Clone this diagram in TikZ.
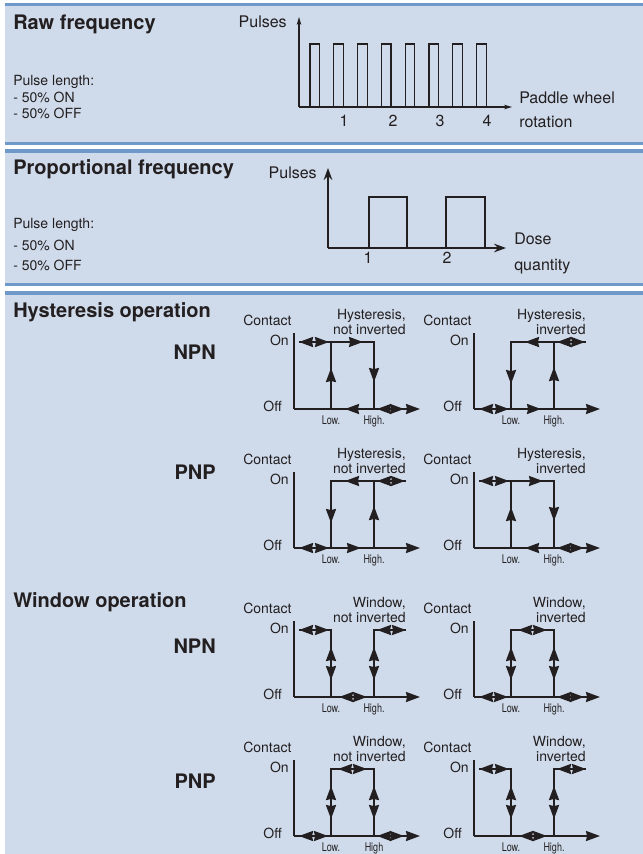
\documentclass[tikz,border=0pt]{standalone}
\usepackage{fontspec}
\setmainfont{TeX Gyre Heros}
\newfontfamily\narrowfont[FakeStretch=0.75]{TeX Gyre Heros}
\usepackage{tikz}
\usetikzlibrary{arrows.meta}
\definecolor{bandblue}{RGB}{207,219,235}
\definecolor{ruleblue}{RGB}{111,153,201}
\definecolor{ink}{RGB}{35,31,32}

\begin{document}
\begin{tikzpicture}[x=0.75pt,y=-0.75pt,
  every node/.style={inner sep=0pt,text=ink},
  title/.style={font=\fontsize{15}{18}\selectfont\bfseries,text height=10.8pt,text depth=0pt},
  note/.style={font=\fontsize{10.5}{12}\selectfont,text height=7.6pt,text depth=0pt},
  axlbl/.style={font=\fontsize{12}{14}\selectfont,text height=8.6pt,text depth=0pt},
  chartlbl/.style={font=\fontsize{10.5}{12}\selectfont,text height=7.6pt,text depth=0pt},
  lvl/.style={font=\narrowfont\fontsize{9}{10}\selectfont,text height=6.5pt,text depth=0pt},
  thinax/.style={draw=ink,line width=0.9pt},
  trace/.style={draw=ink,line width=1.5pt},
  yax/.style={draw=ink,line width=1.1pt},
  onehead/.style={trace,-{Stealth[length=10.5pt,width=7.5pt,inset=0.8pt]}},
  twohead/.style={trace,{Stealth[length=10.5pt,width=7.5pt,inset=0.8pt]}-{Stealth[length=10.5pt,width=7.5pt,inset=0.8pt]}}]
  \useasboundingbox (0,0) rectangle (643,854);
  \fill[white] (0,0) rectangle (643,854);
  \fill[bandblue] (5,5) rectangle (643,142);
  \fill[bandblue] (5,152) rectangle (643,283);
  \fill[bandblue] (5,294) rectangle (643,854);
  \foreach \ya/\yb in {2.5/5.5, 141.5/144.5, 149/152.5, 283/286, 291/294.5}
    \fill[ruleblue] (5,\ya) rectangle (643,\yb);

  % raw frequency
  \node [title,anchor=west] (raw) at (13,22) {Raw frequency};
  \node [note,anchor=west] (len1) at (13,80) {Pulse length:};
  \node [note,anchor=west] (on1) at (13,97) {- 50\% ON};
  \node [note,anchor=west] (off1) at (13,113) {- 50\% OFF};
  \node [axlbl,anchor=east] (pulses1) at (287,22) {Pulses};
  \node [axlbl,anchor=west] (paddle) at (519,98) {Paddle wheel};
  \node [axlbl,anchor=west] (rotation) at (519,122) {rotation};
  \foreach \x/\t in {344/1,393/2,440/3,487/4}
    \node [axlbl] (rev\t) at (\x,121) {\t};
  \draw[thinax,-{Stealth[length=6pt,width=3.5pt]}] (299,107) -- (299,17);
  \draw[thinax,-{Stealth[length=6pt,width=3.5pt]}] (299,107) -- (512,107);
  \foreach \i in {0,...,7}
    \draw[thinax] ({310+23.8*\i},107) -- ++(0,-63) -- ++(9.5,0) -- ++(0,63);

  % proportional frequency
  \node [title,anchor=west] (prop) at (13,167) {Proportional frequency};
  \node [note,anchor=west] (len2) at (13,223) {Pulse length:};
  \node [note,anchor=west] (on2) at (13,245) {- 50\% ON};
  \node [note,anchor=west] (off2) at (13,265) {- 50\% OFF};
  \node [axlbl,anchor=east] (pulses2) at (317,173) {Pulses};
  \node [axlbl,anchor=west] (dose) at (514,239) {Dose};
  \node [axlbl,anchor=west] (quantity) at (514,265) {quantity};
  \node [axlbl] (dose1) at (368,258) {1};
  \node [axlbl] (dose2) at (447,258) {2};
  \draw[trace,line width=1.1pt,-{Stealth[length=9pt,width=6.5pt]}] (328,248) -- (328,168);
  \draw[trace,line width=1.1pt,-{Stealth[length=9pt,width=6.5pt]}] (328,248) -- (506,248);
  \draw[thinax] (369,248) -- (369,197) -- (407,197) -- (407,248);
  \draw[thinax] (446,248) -- (446,197) -- (485,197) -- (485,248);

  % switching charts
  \node [title,anchor=west] (hyst) at (13,310) {Hysteresis operation};
  \node [title,anchor=east] (npnh) at (216,352) {NPN};
  \node [title,anchor=east] (pnph) at (216,472) {PNP};
  \node [title,anchor=west] (window) at (13,600) {Window operation};
  \node [title,anchor=east] (npnw) at (216,646) {NPN};
  \node [title,anchor=east] (pnpw) at (216,781) {PNP};

  \foreach \cx/\cy/\ta/\tb/\hi/\n in {294/342/{Hysteresis,}/{not inverted}/High./a,
      474/342/{Hysteresis,}/inverted/High./b, 294/481/{Hysteresis,}/{not inverted}/High./c,
      474/481/{Hysteresis,}/inverted/High./d, 294/630/{Window,}/{not inverted}/High./e,
      474/630/{Window,}/inverted/High./f, 294/769/{Window,}/{not inverted}/High/g,
      474/769/{Window,}/inverted/High./h} {
    \begin{scope}[shift={(\cx,\cy)}]
      \draw[yax] (0,-9) -- (0,67);
      \draw[onehead] (0,67) -- (126,67);
      \node [chartlbl,anchor=west] (contact\n) at (-51,-22) {Contact};
      \node [chartlbl,anchor=east] (on\n) at (-5,-2) {On};
      \node [chartlbl,anchor=east] (off\n) at (-12,64) {Off};
      \node [chartlbl,anchor=east] (mode\n) at (112,-28) {\ta};
      \node [chartlbl,anchor=east] (inv\n) at (112,-13) {\tb};
      \node [lvl] (low\n) at (37,78) {Low.};
      \node [lvl] (high\n) at (80,78) {\hi};
    \end{scope}}

  \foreach \cx/\cy in {294/342, 474/481} {
    \begin{scope}[shift={(\cx,\cy)}]
      \draw[trace] (5,0) -- (80,0) -- (80,67);
      \draw[trace] (37,67) -- (37,0);
      \draw[twohead] (5,0) -- (35,0);
      \draw[onehead] (54,0) -- (69,0);
      \draw[onehead] (37,42) -- (37,26);
      \draw[onehead] (80,24) -- (80,40);
      \draw[onehead] (66,67) -- (51,67);
      \draw[twohead] (83,67) -- (110,67);
    \end{scope}}
  \foreach \cx/\cy in {474/342, 294/481} {
    \begin{scope}[shift={(\cx,\cy)}]
      \draw[trace] (37,67) -- (37,0) -- (112,0);
      \draw[trace] (80,0) -- (80,67);
      \draw[twohead] (5,67) -- (35,67);
      \draw[onehead] (52,67) -- (67,67);
      \draw[onehead] (37,26) -- (37,42);
      \draw[onehead] (80,41) -- (80,25);
      \draw[onehead] (66,0) -- (51,0);
      \draw[twohead] (83,0) -- (111,0);
    \end{scope}}
  \foreach \cx/\cy in {294/630, 474/769} {
    \begin{scope}[shift={(\cx,\cy)}]
      \draw[trace] (5,0) -- (37,0) -- (37,67);
      \draw[trace] (80,67) -- (80,0) -- (112,0);
      \draw[twohead] (5,0) -- (35,0);
      \draw[twohead] (83,0) -- (112,0);
      \draw[twohead] (37,17) -- (37,50);
      \draw[twohead] (80,17) -- (80,50);
      \draw[twohead] (45,67) -- (73,67);
    \end{scope}}
  \foreach \cx/\cy in {474/630, 294/769} {
    \begin{scope}[shift={(\cx,\cy)}]
      \draw[trace] (37,67) -- (37,0) -- (80,0) -- (80,67);
      \draw[twohead] (44,0) -- (73,0);
      \draw[twohead] (37,17) -- (37,50);
      \draw[twohead] (80,17) -- (80,50);
      \draw[twohead] (5,67) -- (34,67);
      \draw[twohead] (83,67) -- (110,67);
    \end{scope}}
\end{tikzpicture}
\end{document}
